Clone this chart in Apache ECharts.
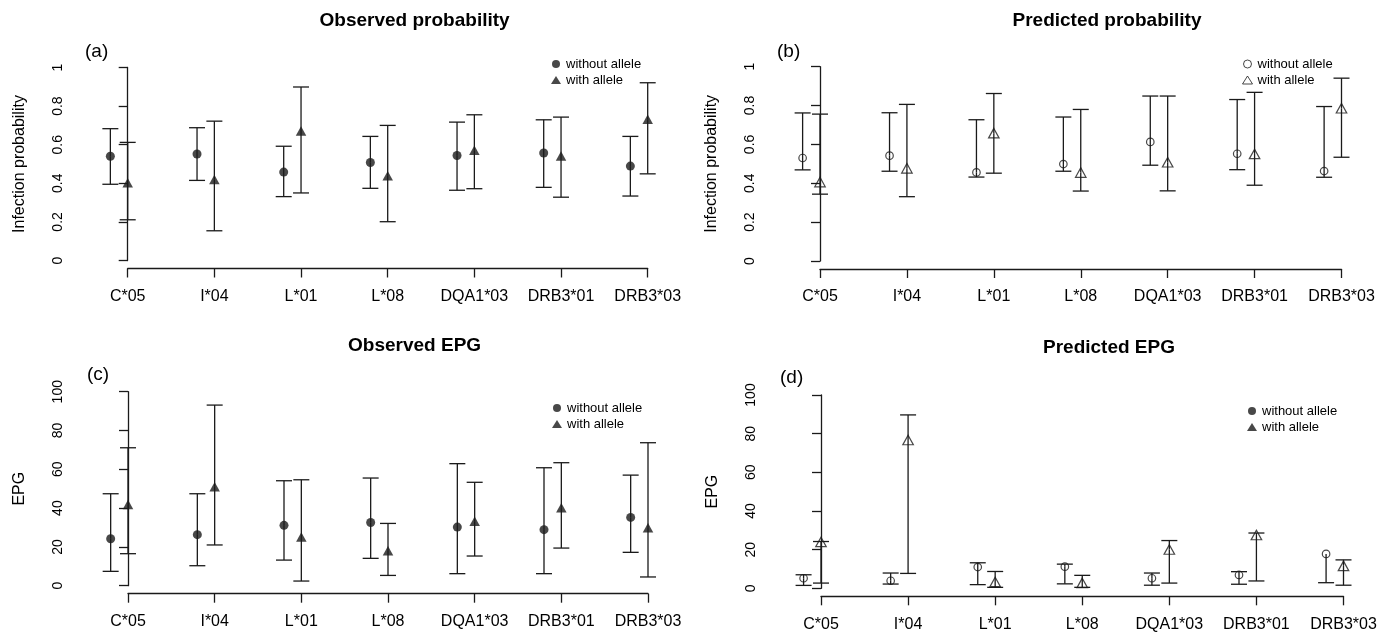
<!DOCTYPE html>
<html><head><meta charset="utf-8">
<script src="https://cdn.jsdelivr.net/npm/echarts@6/dist/echarts.min.js"></script>
<style>html,body{margin:0;padding:0;background:#fff}#c{width:1389px;height:633px}</style>
</head><body><div id="c"></div><script>
// ---------- data ----------
const categories = ['C*05', 'I*04', 'L*01', 'L*08', 'DQA1*03', 'DRB3*01', 'DRB3*03'];
const seriesNames = ['without allele', 'with allele'];
const panelTitles = ['Observed probability', 'Predicted probability', 'Observed EPG', 'Predicted EPG'];
const panelLetters = ['(a)', '(b)', '(c)', '(d)'];
const yNames = ['Infection probability', 'Infection probability', 'EPG', 'EPG'];

// (a) Observed probability
const obsProbWithoutEst  = [0.540, 0.552, 0.458, 0.508, 0.544, 0.557, 0.489];
const obsProbWithoutLow  = [0.395, 0.415, 0.331, 0.374, 0.364, 0.379, 0.334];
const obsProbWithoutHigh = [0.683, 0.688, 0.592, 0.643, 0.717, 0.729, 0.643];
const obsProbWithEst     = [0.403, 0.420, 0.671, 0.439, 0.571, 0.542, 0.732];
const obsProbWithLow     = [0.211, 0.154, 0.350, 0.201, 0.372, 0.328, 0.449];
const obsProbWithHigh    = [0.612, 0.722, 0.899, 0.700, 0.755, 0.743, 0.921];

// (b) Predicted probability
const predProbWithoutEst  = [0.530, 0.542, 0.456, 0.499, 0.613, 0.552, 0.463];
const predProbWithoutLow  = [0.469, 0.462, 0.432, 0.462, 0.493, 0.470, 0.431];
const predProbWithoutHigh = [0.762, 0.763, 0.727, 0.741, 0.849, 0.831, 0.795];
const predProbWithEst     = [0.406, 0.477, 0.658, 0.455, 0.508, 0.551, 0.786];
const predProbWithLow     = [0.344, 0.331, 0.452, 0.360, 0.361, 0.390, 0.534];
const predProbWithHigh    = [0.756, 0.806, 0.862, 0.780, 0.849, 0.868, 0.941];

// (c) Observed EPG
const obsEpgWithoutEst  = [24.2, 26.3, 31.1, 32.6, 30.2, 28.9, 35.2];
const obsEpgWithoutLow  = [7.4, 10.3, 13.2, 14.1, 6.2, 6.2, 17.2];
const obsEpgWithoutHigh = [47.4, 47.4, 54.1, 55.5, 62.9, 60.8, 57.0];
const obsEpgWithEst     = [41.9, 51.0, 25.1, 18.0, 33.2, 40.2, 29.9];
const obsEpgWithLow     = [16.5, 21.0, 2.4, 5.3, 15.3, 19.4, 4.5];
const obsEpgWithHigh    = [71.1, 93.1, 54.6, 32.1, 53.3, 63.4, 73.7];

// (d) Predicted EPG
const predEpgWithoutEst  = [5.2, 3.9, 11.0, 11.2, 5.2, 6.9, 17.8];
const predEpgWithoutLow  = [1.5, 2.2, 1.9, 2.3, 1.6, 2.1, 2.9];
const predEpgWithoutHigh = [7.0, 7.9, 13.2, 12.5, 7.9, 8.6, 17.8];
const predEpgWithEst     = [24.0, 76.7, 3.3, 2.8, 20.1, 27.6, 11.6];
const predEpgWithLow     = [2.7, 7.7, 0.5, 0.5, 2.7, 3.8, 1.6];
const predEpgWithHigh    = [24.2, 89.7, 8.7, 6.7, 24.7, 28.6, 14.7];

// ---------- layout ----------
const FONT = '"Liberation Sans", Arial, sans-serif';
const INK = '#1a1a1a';
const panels = [
  { grid: {left: 127.7, top: 67.5, width: 520, height: 193}, yMax: 1, yInt: 0.2,
    title: [414.6, 21], letter: [85, 52], legend: [551, 57], open: false, legendOpen: false,
    groups: [[obsProbWithoutEst, obsProbWithoutLow, obsProbWithoutHigh], [obsProbWithEst, obsProbWithLow, obsProbWithHigh]] },
  { grid: {left: 820, top: 66.7, width: 521.5, height: 194.3}, yMax: 1, yInt: 0.2,
    title: [1107, 21], letter: [777, 52], legend: [1242, 57], open: true, legendOpen: true,
    groups: [[predProbWithoutEst, predProbWithoutLow, predProbWithoutHigh], [predProbWithEst, predProbWithLow, predProbWithHigh]] },
  { grid: {left: 128, top: 391.7, width: 520, height: 194}, yMax: 100, yInt: 20,
    title: [414.6, 346], letter: [87, 375], legend: [552, 401], open: false, legendOpen: false,
    groups: [[obsEpgWithoutEst, obsEpgWithoutLow, obsEpgWithoutHigh], [obsEpgWithEst, obsEpgWithLow, obsEpgWithHigh]] },
  { grid: {left: 821, top: 395, width: 522.5, height: 193.3}, yMax: 100, yInt: 20,
    title: [1109, 348], letter: [780, 378], legend: [1247, 404], open: true, legendOpen: false,
    groups: [[predEpgWithoutEst, predEpgWithoutLow, predEpgWithoutHigh], [predEpgWithEst, predEpgWithLow, predEpgWithHigh]] }
];
const xOffsets = [-0.2, 0];
const symbols = ['circle', 'triangle'];

function renderErr(params, api) {
  const x = api.value(0), lo = api.value(1), hi = api.value(2), est = api.value(3);
  const pE = api.coord([x, est]);
  const cap = 8;
  const style = {stroke: INK, lineWidth: 1.3};
  const children = [];
  [lo, hi].forEach(function (v) {
    if (v === est) return;
    const p = api.coord([x, v]);
    children.push({type: 'line', shape: {x1: pE[0], y1: pE[1], x2: p[0], y2: p[1]}, style: style});
    children.push({type: 'line', shape: {x1: p[0] - cap, y1: p[1], x2: p[0] + cap, y2: p[1]}, style: style});
  });
  return {type: 'group', children: children};
}

const option = {
  animation: false,
  backgroundColor: '#fff',
  title: [], grid: [], xAxis: [], yAxis: [], series: [], legend: []
};

panels.forEach(function (p, k) {
  option.title.push({text: panelTitles[k], left: p.title[0], top: p.title[1], padding: 0,
    textAlign: 'center', textVerticalAlign: 'middle',
    textStyle: {fontFamily: FONT, fontSize: 19, fontWeight: 'bold', color: '#000'}});
  option.title.push({text: panelLetters[k], left: p.letter[0], top: p.letter[1], padding: 0,
    textAlign: 'left', textVerticalAlign: 'middle',
    textStyle: {fontFamily: FONT, fontSize: 19, fontWeight: 'normal', color: '#000'}});
  option.grid.push(Object.assign({containLabel: false}, p.grid));
  const axisLineStyle = {color: INK, width: 1.3};
  option.xAxis.push({type: 'value', gridIndex: k, min: 0, max: categories.length - 1, interval: 1,
    position: 'bottom', offset: 8,
    axisLine: {show: true, onZero: false, lineStyle: axisLineStyle},
    axisTick: {show: true, length: 9, inside: false, lineStyle: axisLineStyle},
    splitLine: {show: false},
    axisLabel: {margin: 20, fontFamily: FONT, fontSize: 16, color: '#000',
      formatter: function (v) { return categories[Math.round(v)] || ''; }}});
  option.yAxis.push({type: 'value', gridIndex: k, min: 0, max: p.yMax, interval: p.yInt,
    position: 'left', offset: 42,
    name: yNames[k], nameLocation: 'middle', nameGap: 58,
    nameTextStyle: {fontFamily: FONT, fontSize: 16, color: '#000'},
    axisLine: {show: true, lineStyle: axisLineStyle},
    axisTick: {show: true, length: 9, inside: false, lineStyle: axisLineStyle},
    splitLine: {show: false},
    axisLabel: {rotate: 90, margin: 21, fontFamily: FONT, fontSize: 14, color: '#000'}});

  p.groups.forEach(function (g, j) {
    const est = g[0], low = g[1], high = g[2];
    const errData = est.map(function (e, i) { return [i + xOffsets[j], low[i], high[i], e]; });
    const ptData = est.map(function (e, i) { return [i + xOffsets[j], e]; });
    option.series.push({type: 'custom', name: 'ci-' + k + '-' + j, xAxisIndex: k, yAxisIndex: k,
      renderItem: renderErr, data: errData, encode: {x: 0, y: [1, 2]}, clip: false, silent: true, z: 2});
    const sStyle = p.open
      ? {color: 'rgba(0,0,0,0)', borderColor: INK, borderWidth: 1.2}
      : {color: INK};
    option.series.push({type: 'scatter', name: seriesNames[j], xAxisIndex: k, yAxisIndex: k,
      symbol: symbols[j], symbolSize: j === 0 ? (p.open ? 7.5 : 9) : [10.5, 9.5],
      itemStyle: sStyle, data: ptData, clip: false, z: 3, emphasis: {disabled: true}});
  });

  const lStyle = p.legendOpen
    ? {color: 'rgba(0,0,0,0)', borderColor: INK, borderWidth: 1}
    : {color: INK, borderWidth: 0};
  option.legend.push({orient: 'vertical', left: p.legend[0], top: p.legend[1], padding: 0,
    itemWidth: 10, itemHeight: 8, itemGap: 2, selectedMode: false,
    textStyle: {fontFamily: FONT, fontSize: 13, color: '#000', lineHeight: 14},
    data: seriesNames.map(function (n, j) {
      return {name: n, icon: symbols[j], itemStyle: lStyle};
    })});
});

const chart = echarts.init(document.getElementById('c'), null, {renderer: 'canvas'});
chart.setOption(option);
</script></body></html>
